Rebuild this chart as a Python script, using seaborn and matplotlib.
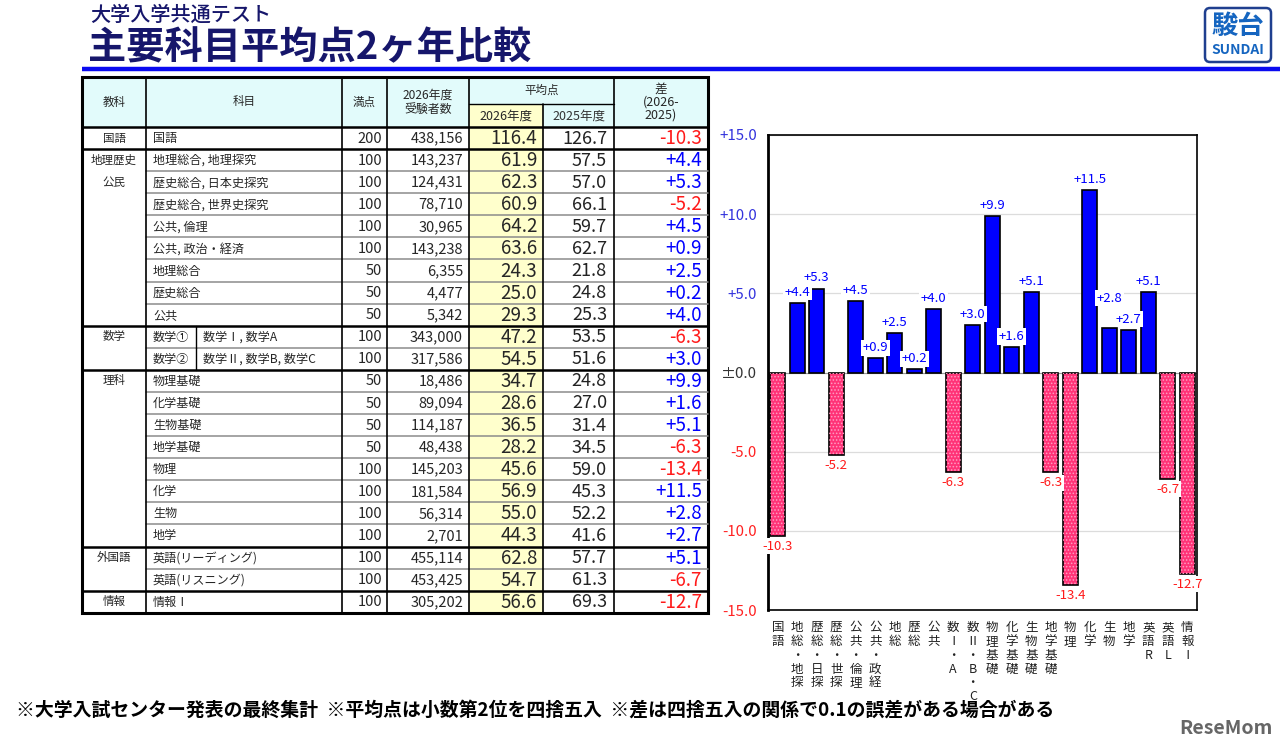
import matplotlib.pyplot as plt
import matplotlib.patches as mpatches
import seaborn as sns

sns.set_style("white")
plt.rcParams['font.family'] = ['Noto Sans CJK JP', 'DejaVu Sans']
plt.rcParams['hatch.linewidth'] = 0.7

# ------------------------------
# data
# ------------------------------
group_rows = [0, 1, 2, 9, 11, 19, 21]
group_names = ["国語", "地理歴史", "公民", "数学", "理科", "外国語", "情報"]
group_ends = [0, 8, 10, 18, 20]   # thick line under these rows

sub_prefix = ["", "", "", "", "", "", "", "", "", "数学①", "数学②",
              "", "", "", "", "", "", "", "", "", "", ""]
subjects = ["国語", "地理総合, 地理探究", "歴史総合, 日本史探究", "歴史総合, 世界史探究",
            "公共, 倫理", "公共, 政治・経済", "地理総合", "歴史総合", "公共",
            "数学Ⅰ, 数学A", "数学Ⅱ, 数学B, 数学C",
            "物理基礎", "化学基礎", "生物基礎", "地学基礎",
            "物理", "化学", "生物", "地学",
            "英語(リーディング)", "英語(リスニング)", "情報Ⅰ"]
full_marks = [200, 100, 100, 100, 100, 100, 50, 50, 50, 100, 100,
              50, 50, 50, 50, 100, 100, 100, 100, 100, 100, 100]
examinees = [438156, 143237, 124431, 78710, 30965, 143238, 6355, 4477, 5342,
             343000, 317586, 18486, 89094, 114187, 48438,
             145203, 181584, 56314, 2701, 455114, 453425, 305202]
avg_2026 = [116.4, 61.9, 62.3, 60.9, 64.2, 63.6, 24.3, 25.0, 29.3, 47.2, 54.5,
            34.7, 28.6, 36.5, 28.2, 45.6, 56.9, 55.0, 44.3, 62.8, 54.7, 56.6]
avg_2025 = [126.7, 57.5, 57.0, 66.1, 59.7, 62.7, 21.8, 24.8, 25.3, 53.5, 51.6,
            24.8, 27.0, 31.4, 34.5, 59.0, 45.3, 52.2, 41.6, 57.7, 61.3, 69.3]
diff = [-10.3, 4.4, 5.3, -5.2, 4.5, 0.9, 2.5, 0.2, 4.0, -6.3, 3.0,
        9.9, 1.6, 5.1, -6.3, -13.4, 11.5, 2.8, 2.7, 5.1, -6.7, -12.7]

chart_labels = ["国語", "地総・地探", "歴総・日探", "歴総・世探", "公共・倫理", "公共・政経",
                "地総", "歴総", "公共", "数Ⅰ・A", "数Ⅱ・B・C",
                "物理基礎", "化学基礎", "生物基礎", "地学基礎",
                "物理", "化学", "生物", "地学", "英語R", "英語L", "情報Ⅰ"]
yticks = [-15, -10, -5, 0, 5, 10, 15]

BLUE = '#0000ff'
RED = '#ff1a1a'
PINK = '#ff3377'
NAVY = '#16166b'


def fmt_diff(v):
    if v > 0:
        return f"+{v:.1f}"
    if v < 0:
        return f"-{abs(v):.1f}"
    return "±0.0"


fig = plt.figure(figsize=(12.8, 7.52), dpi=100)
bg = fig.add_axes([0, 0, 1, 1])
bg.set_xlim(0, 1280)
bg.set_ylim(752, 0)
bg.axis('off')

# ------------------------------
# title / logo / footnote
# ------------------------------
bg.text(90, 15, "大学入学共通テスト", fontsize=14.5, color=NAVY, va='center', fontweight='medium')
bg.text(88, 48, "主要科目平均点2ヶ年比較", fontsize=27.5, color=NAVY, va='center', fontweight='bold')
bg.plot([82, 1280], [68.5, 68.5], color='#0a0af0', lw=3.2, solid_capstyle='butt')

bg.add_patch(mpatches.FancyBboxPatch((1205, 8), 66, 54, boxstyle="round,pad=0,rounding_size=5",
                                     facecolor='white', edgecolor='#1f3f8f', lw=1.8, zorder=3))
bg.text(1238, 26, "駿台", fontsize=19, color='#1565c0', ha='center', va='center',
        fontweight='bold', zorder=4)
bg.text(1238, 50, "SUNDAI", fontsize=10, color='#1565c0', ha='center', va='center',
        fontweight='bold', zorder=4)

bg.text(16, 710, "※大学入試センター発表の最終集計  ※平均点は小数第2位を四捨五入  ※差は四捨五入の関係で0.1の誤差がある場合がある",
        fontsize=13.6, fontweight='bold', va='center', color='black')
bg.text(1226, 728, "ReseMom", fontsize=14, fontweight='bold', color='#666666', ha='center', va='center')

# ------------------------------
# table
# ------------------------------
cols = [82, 146, 342, 387, 469, 543, 614, 708]
top, hdr_mid, hdr_bot = 77, 104, 127
row_h = 22.08
n = len(subjects)
bottom = hdr_bot + n * row_h

bg.add_patch(mpatches.Rectangle((cols[0], top), cols[-1] - cols[0], hdr_bot - top,
                                facecolor='#e2fbfb', edgecolor='none'))
bg.add_patch(mpatches.Rectangle((cols[4], hdr_mid), cols[5] - cols[4], bottom - hdr_mid,
                                facecolor='#ffffcc', edgecolor='none'))

# thin gray row lines
for i in range(1, n):
    if (i - 1) in group_ends:
        continue
    y = hdr_bot + i * row_h
    bg.plot([cols[1], cols[-1]], [y, y], color='#8c8c8c', lw=1.1)
# thick group lines
for r in group_ends:
    y = hdr_bot + (r + 1) * row_h
    bg.plot([cols[0], cols[-1]], [y, y], color='black', lw=1.8)
# vertical lines
for j, x in enumerate(cols[1:-1], start=1):
    y0 = hdr_mid if j == 5 else top
    bg.plot([x, x], [y0, bottom], color='black', lw=1.2)
bg.plot([cols[4], cols[6]], [hdr_mid, hdr_mid], color='black', lw=1.0)
bg.plot([cols[0], cols[-1]], [hdr_bot, hdr_bot], color='black', lw=1.8)
bg.add_patch(mpatches.Rectangle((cols[0], top), cols[-1] - cols[0], bottom - top,
                                fill=False, edgecolor='black', lw=2.2))

# header texts
hy = (top + hdr_bot) / 2
bg.text((cols[0] + cols[1]) / 2, hy, "教科", fontsize=8.3, ha='center', va='center')
bg.text((cols[1] + cols[2]) / 2, hy, "科目", fontsize=8.3, ha='center', va='center')
bg.text((cols[2] + cols[3]) / 2, hy, "満点", fontsize=8.3, ha='center', va='center')
bg.text((cols[3] + cols[4]) / 2, hy, "2026年度\n受験者数", fontsize=8.6, ha='center', va='center',
        linespacing=1.1)
bg.text((cols[4] + cols[6]) / 2, (top + hdr_mid) / 2, "平均点", fontsize=8.3, ha='center', va='center')
bg.text((cols[4] + cols[5]) / 2, (hdr_mid + hdr_bot) / 2 + 1, "2026年度", fontsize=9,
        ha='center', va='center')
bg.text((cols[5] + cols[6]) / 2, (hdr_mid + hdr_bot) / 2 + 1, "2025年度", fontsize=9,
        ha='center', va='center', color='#333333')
bg.text((cols[6] + cols[7]) / 2, hy, "差\n(2026-\n2025)", fontsize=9, ha='center', va='center',
        linespacing=1.0)

for r, name in zip(group_rows, group_names):
    bg.text((cols[0] + cols[1]) / 2, hdr_bot + (r + 0.5) * row_h, name, fontsize=8.3,
            ha='center', va='center')

for i in range(n):
    yc = hdr_bot + (i + 0.5) * row_h + 0.5
    if sub_prefix[i]:
        bg.text(cols[1] + 7, yc, sub_prefix[i], fontsize=8.7, va='center')
        bg.plot([196, 196], [yc - row_h / 2, yc + row_h / 2], color='black', lw=1.0)
        bg.text(203, yc, subjects[i], fontsize=8.7, va='center')
    else:
        bg.text(cols[1] + 7, yc, subjects[i], fontsize=8.7, va='center')
    bg.text(cols[3] - 5, yc, f"{full_marks[i]}", fontsize=10.5, ha='right', va='center')
    bg.text(cols[4] - 6, yc, f"{examinees[i]:,}", fontsize=10.5, ha='right', va='center')
    bg.text(cols[5] - 6, yc, f"{avg_2026[i]:.1f}", fontsize=13.5, ha='right', va='center')
    bg.text(cols[6] - 7, yc, f"{avg_2025[i]:.1f}", fontsize=13, ha='right', va='center',
            color='#222222')
    bg.text(cols[7] - 6, yc, fmt_diff(diff[i]), fontsize=13.5, ha='right', va='center',
            color=BLUE if diff[i] > 0 else RED)

# ------------------------------
# bar chart
# ------------------------------
ax = fig.add_axes([768 / 1280, (752 - 610) / 752, (1197 - 768) / 1280, (610 - 135) / 752])
bar_colors = [BLUE if d > 0 else PINK for d in diff]
sns.barplot(x=chart_labels, y=diff, hue=chart_labels, palette=bar_colors, legend=False,
            ax=ax, width=0.76, saturation=1, edgecolor='black', linewidth=1.2, zorder=2)

for p, d in zip(ax.patches, diff):
    if d < 0:
        ax.add_patch(mpatches.Rectangle((p.get_x(), p.get_y()), p.get_width(), p.get_height(),
                                        fill=False, hatch='.....', edgecolor='#ff9cc2',
                                        lw=0, zorder=3))

# the 生物 label is lifted so it clears its neighbour
label_lift = {17: 14}
for i, d in enumerate(diff):
    off = (3 + label_lift.get(i, 0)) if d > 0 else -3
    ax.annotate(fmt_diff(d), xy=(i, d), xytext=(0, off),
                textcoords='offset points', ha='center', va='bottom' if d > 0 else 'top',
                fontsize=9.5, color=BLUE if d > 0 else RED, zorder=5,
                bbox=dict(boxstyle='square,pad=0.12', facecolor='white', edgecolor='none'))

ax.set_ylim(-15, 15)
ax.set_xlim(-0.5, len(diff) - 0.5)
ax.set_yticks(yticks)
ax.set_yticklabels([fmt_diff(v) for v in yticks], fontsize=10.8)
for lab, v in zip(ax.get_yticklabels(), yticks):
    lab.set_color('#3333dd' if v > 0 else ('#ff2222' if v < 0 else '#333333'))
ax.tick_params(axis='y', length=0, pad=8)
ax.yaxis.grid(True, color='#dcdcdc', lw=0.9)
ax.set_axisbelow(True)
ax.axhline(0, color='#999999', lw=0.8, zorder=1)

ax.set_xticks(range(len(chart_labels)))
ax.set_xticklabels(["\n".join(lab) for lab in chart_labels], fontsize=9, linespacing=1.08,
                   va='top', color='#222222')
ax.tick_params(axis='x', length=0, pad=8)
ax.set_xlabel("")
ax.set_ylabel("")
for s in ax.spines.values():
    s.set_color('black')
    s.set_linewidth(1.2)
ax.spines['left'].set_linewidth(2)

fig.savefig("out.png", dpi=100)
